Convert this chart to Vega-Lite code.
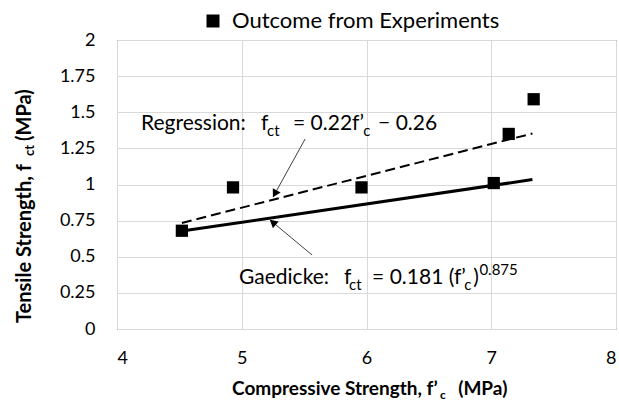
{
  "$schema": "https://vega.github.io/schema/vega-lite/v6.json",
  "width": 499,
  "height": 289,
  "autosize": {"type": "none"},
  "padding": {"left": 117, "top": 40, "right": 3, "bottom": 74},
  "background": "white",
  "config": {
    "font": "Lato",
    "view": {"stroke": "#404040", "strokeWidth": 1},
    "axis": {
      "grid": true,
      "gridColor": "#d9d9d9",
      "gridWidth": 1,
      "domain": false,
      "ticks": false,
      "tickSize": 0,
      "labelFont": "Lato",
      "labelFontSize": 18,
      "labelColor": "#000000"
    },
    "legend": {
      "orient": "none",
      "legendX": 85,
      "legendY": -30,
      "padding": 0,
      "labelFont": "Lato",
      "labelFontSize": 22,
      "labelColor": "#000000",
      "labelLimit": 0,
      "symbolType": "square",
      "symbolSize": 169,
      "symbolFillColor": "#000000",
      "symbolStrokeWidth": 0,
      "labelOffset": 8
    }
  },
  "datasets": {
    "points": [
      {"fc": 4.52, "fct": 0.68, "series": "Outcome from Experiments"},
      {"fc": 4.93, "fct": 0.98, "series": "Outcome from Experiments"},
      {"fc": 5.96, "fct": 0.98, "series": "Outcome from Experiments"},
      {"fc": 7.02, "fct": 1.01, "series": "Outcome from Experiments"},
      {"fc": 7.14, "fct": 1.35, "series": "Outcome from Experiments"},
      {"fc": 7.34, "fct": 1.59, "series": "Outcome from Experiments"}
    ],
    "regression": [
      {"fc": 4.52, "fct": 0.734},
      {"fc": 7.33, "fct": 1.353}
    ],
    "gaedicke": [
      {"fc": 4.52, "fct": 0.678},
      {"fc": 7.33, "fct": 1.034}
    ],
    "arrows": [
      {"name": "Regression", "fc": 5.508, "fct": 1.315, "fc2": 5.251, "fct2": 0.913},
      {"name": "Gaedicke", "fc": 5.564, "fct": 0.512, "fc2": 5.227, "fct2": 0.754}
    ],
    "heads": [
      {"name": "Regression", "fc": 5.265, "fct": 0.936},
      {"name": "Gaedicke", "fc": 5.249, "fct": 0.738}
    ],
    "texts": [
      {"kind": "main", "fc": 4.192, "fct": 1.377, "text": "Regression:"},
      {"kind": "main", "fc": 5.155, "fct": 1.377, "text": "f"},
      {"kind": "main", "fc": 5.411, "fct": 1.377, "text": "= 0.22f’"},
      {"kind": "main", "fc": 6.093, "fct": 1.377, "text": "− 0.26"},
      {"kind": "main", "fc": 4.978, "fct": 0.311, "text": "Gaedicke:"},
      {"kind": "main", "fc": 5.820, "fct": 0.311, "text": "f"},
      {"kind": "main", "fc": 6.045, "fct": 0.311, "text": "= 0.181 (f’"},
      {"kind": "main", "fc": 6.855, "fct": 0.311, "text": ")"},
      {"kind": "sub", "fc": 5.203, "fct": 1.336, "text": "ct"},
      {"kind": "sub", "fc": 5.973, "fct": 1.336, "text": "c"},
      {"kind": "sub", "fc": 5.860, "fct": 0.270, "text": "ct"},
      {"kind": "sub", "fc": 6.783, "fct": 0.270, "text": "c"},
      {"kind": "sup", "fc": 6.905, "fct": 0.374, "text": "0.875"},
      {"kind": "xtitle", "fc": 4.922, "fct": -0.457, "text": "Compressive Strength, f’"},
      {"kind": "xtitle", "fc": 6.735, "fct": -0.457, "text": "(MPa)"},
      {"kind": "xsub", "fc": 6.590, "fct": -0.484, "text": "c"},
      {"kind": "ytitle", "fc": 3.310, "fct": 0.0415, "text": "Tensile Strength, f"},
      {"kind": "ytitle", "fc": 3.310, "fct": 1.301, "text": "(MPa)"},
      {"kind": "ysub", "fc": 3.334, "fct": 1.197, "text": "ct"}
    ]
  },
  "encoding": {
    "x": {"field": "fc", "type": "quantitative",
      "scale": {"domain": [4, 8], "nice": false, "zero": false},
      "axis": {"title": null, "values": [4, 5, 6, 7, 8], "format": "d", "labelPadding": 20, "labelOverlap": false}},
    "y": {"field": "fct", "type": "quantitative",
      "scale": {"domain": [0, 2], "nice": false, "zero": false},
      "axis": {"title": null, "values": [0, 0.25, 0.5, 0.75, 1, 1.25, 1.5, 1.75, 2], "labelExpr": "'' + datum.value", "labelPadding": 22, "labelOverlap": false}}
  },
  "layer": [
    {
      "data": {"name": "gaedicke"},
      "mark": {"type": "line", "color": "#000000", "strokeWidth": 3}
    },
    {
      "data": {"name": "regression"},
      "mark": {"type": "line", "color": "#000000", "strokeWidth": 2, "strokeDash": [10, 5]}
    },
    {
      "data": {"name": "points"},
      "mark": {"type": "point", "shape": "square", "filled": true, "size": 150, "opacity": 1},
      "encoding": {
        "color": {"field": "series", "type": "nominal", "scale": {"range": ["#000000"]}, "legend": {"title": null}}
      }
    },
    {
      "data": {"name": "arrows"},
      "mark": {"type": "rule", "color": "#404040", "strokeWidth": 1},
      "encoding": {
        "x2": {"field": "fc2"},
        "y2": {"field": "fct2"}
      }
    },
    {
      "data": {"name": "heads"},
      "transform": [{"filter": "datum.name === 'Regression'"}],
      "mark": {"type": "point", "shape": "triangle-up", "filled": true, "size": 80, "angle": 209, "color": "#000000", "opacity": 1}
    },
    {
      "data": {"name": "heads"},
      "transform": [{"filter": "datum.name === 'Gaedicke'"}],
      "mark": {"type": "point", "shape": "triangle-up", "filled": true, "size": 80, "angle": 310, "color": "#000000", "opacity": 1}
    },
    {
      "data": {"name": "texts"},
      "transform": [{"filter": "datum.kind === 'main'"}],
      "mark": {"type": "text", "align": "left", "baseline": "alphabetic", "font": "Lato", "fontSize": 21, "color": "#000000"},
      "encoding": {"text": {"field": "text"}}
    },
    {
      "data": {"name": "texts"},
      "transform": [{"filter": "datum.kind === 'sub' || datum.kind === 'sup'"}],
      "mark": {"type": "text", "align": "left", "baseline": "alphabetic", "font": "Lato", "fontSize": 15, "color": "#000000"},
      "encoding": {"text": {"field": "text"}}
    },
    {
      "data": {"name": "texts"},
      "transform": [{"filter": "datum.kind === 'xtitle'"}],
      "mark": {"type": "text", "align": "left", "baseline": "alphabetic", "font": "Lato", "fontWeight": "bold", "fontSize": 19, "color": "#000000"},
      "encoding": {"text": {"field": "text"}}
    },
    {
      "data": {"name": "texts"},
      "transform": [{"filter": "datum.kind === 'xsub'"}],
      "mark": {"type": "text", "align": "left", "baseline": "alphabetic", "font": "Lato", "fontWeight": "bold", "fontSize": 12, "color": "#000000"},
      "encoding": {"text": {"field": "text"}}
    },
    {
      "data": {"name": "texts"},
      "transform": [{"filter": "datum.kind === 'ytitle'"}],
      "mark": {"type": "text", "align": "left", "baseline": "alphabetic", "angle": 270, "font": "Lato", "fontWeight": "bold", "fontSize": 20, "color": "#000000"},
      "encoding": {"text": {"field": "text"}}
    },
    {
      "data": {"name": "texts"},
      "transform": [{"filter": "datum.kind === 'ysub'"}],
      "mark": {"type": "text", "align": "left", "baseline": "alphabetic", "angle": 270, "font": "Lato", "fontWeight": "bold", "fontSize": 13, "color": "#000000"},
      "encoding": {"text": {"field": "text"}}
    }
  ]
}
